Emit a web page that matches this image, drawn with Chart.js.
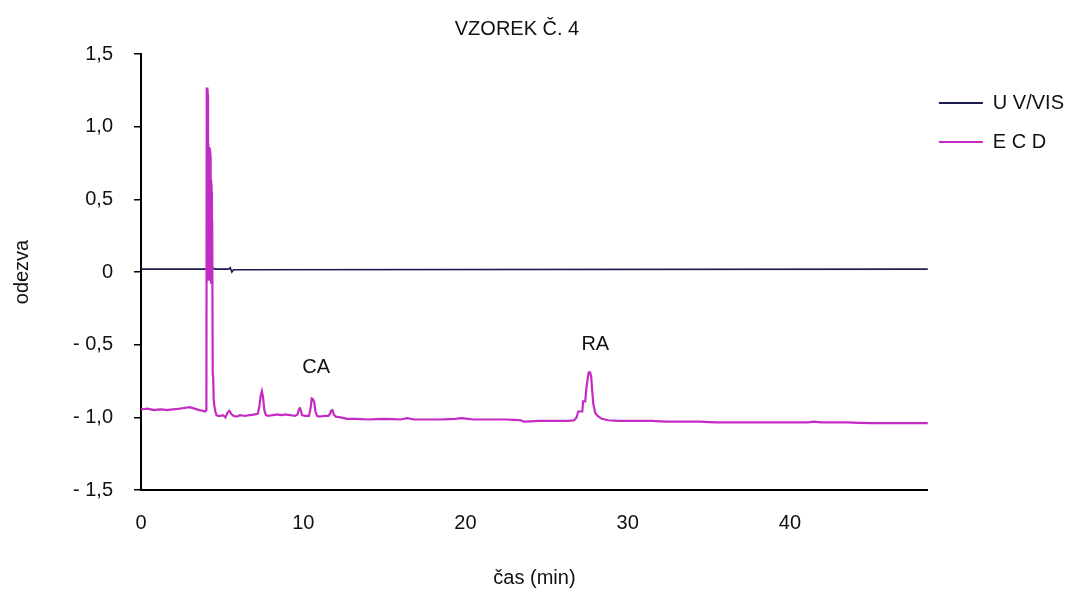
<!DOCTYPE html>
<html>
<head>
<meta charset="utf-8">
<script src="https://cdn.jsdelivr.net/npm/chart.js@4/dist/chart.umd.min.js"></script>
<style>
  html, body { margin: 0; padding: 0; background: #ffffff; }
  #wrap { width: 1070px; height: 591px; }
</style>
</head>
<body>
<div id="wrap"><canvas id="c" width="1070" height="591"></canvas></div>
<script>
// ---------------- DATA ----------------
const chartTitle = 'VZOREK Č. 4';
const xAxisTitle = 'čas (min)';
const yAxisTitle = 'odezva';
const seriesNames = ['U V/VIS', 'E C D'];

const yTickLabels = ['- 1,5', '- 1,0', '- 0,5', '0', '0,5', '1,0', '1,5'];
const xTickLabels = ['0', '10', '20', '30', '40'];

// UV/VIS detector trace (time in min, response)
const uvTime  = [0,    4.0,  4.15, 4.45,  4.6,  5.4,  5.5,  5.6, 5.7,   48.5];
const uvValue = [0.02, 0.02, 0.02, 0.025, 0.02, 0.02, 0.03, 0.0, 0.015, 0.02];

// ECD detector trace (time in min, response)
const ecdTime = [
  0, 0.4, 0.8, 1.2, 1.6, 2.0, 2.4, 2.7, 3.0, 3.3, 3.6, 3.8, 3.95, 4.03,
  4.05, 4.06, 4.07, 4.08, 4.09, 4.10, 4.11, 4.12, 4.13, 4.14, 4.15, 4.16, 4.17, 4.18,
  4.19, 4.20, 4.21, 4.22, 4.23, 4.24, 4.25, 4.26, 4.27, 4.28, 4.29, 4.30, 4.31, 4.32,
  4.33, 4.34, 4.35, 4.36, 4.37, 4.38, 4.39, 4.40,
  4.42, 4.45, 4.48, 4.52, 4.58, 4.66, 4.75, 4.9, 5.05, 5.2, 5.35, 5.45, 5.55, 5.7,
  5.9, 6.1, 6.4, 6.7, 7.0, 7.2, 7.3, 7.38, 7.45, 7.52, 7.6, 7.7, 7.85,
  8.1, 8.4, 8.7, 8.9, 9.2, 9.5, 9.65, 9.72, 9.78, 9.85, 9.92,
  10.1, 10.35, 10.45, 10.52, 10.6, 10.68, 10.75, 10.85, 11.0, 11.3, 11.55,
  11.65, 11.72, 11.8, 11.88, 12.0, 12.3, 12.7, 13.2, 14, 15, 16, 16.4, 16.8,
  17.5, 18.5, 19.4, 19.8, 20.5, 21.5, 22.5, 23.4, 23.6, 24.5, 25.5, 26.3,
  26.7, 26.85, 26.95, 27.2, 27.25, 27.38, 27.45, 27.55, 27.6, 27.68, 27.75, 27.8, 27.88,
  28.0, 28.15, 28.4, 28.8, 29.5, 30.5, 31.5, 32.5, 33.5, 34.5, 35.5,
  37, 39, 41, 41.5, 42, 43.5, 45, 47, 48.5
];
const ecdValue = [
  -0.945, -0.94, -0.95, -0.945, -0.95, -0.945, -0.94, -0.935, -0.93, -0.94, -0.95, -0.955, -0.96, -0.95,
  1.27, -0.04, 1.26, -0.02, 1.27, 0.03, 1.25, -0.06, 1.22, 0.02, 0.88, -0.05, 0.86, 0.06,
  0.85, -0.03, 0.86, 0.08, 0.84, -0.06, 0.85, 0.02, 0.83, -0.04, 0.8, 0.05, 0.64, -0.08,
  0.63, 0.04, 0.6, -0.06, 0.55, 0.0, 0.35, -0.08,
  -0.7, -0.73, -0.88, -0.92, -0.96, -0.985, -0.99, -0.99, -0.985, -1.0, -0.965, -0.955, -0.975, -0.99,
  -0.995, -0.985, -0.99, -0.985, -0.98, -0.975, -0.92, -0.85, -0.82, -0.86, -0.95, -0.985, -0.99,
  -0.985, -0.98, -0.985, -0.98, -0.985, -0.99, -0.98, -0.95, -0.935, -0.95, -0.985,
  -0.99, -0.99, -0.94, -0.87, -0.875, -0.9, -0.96, -0.99, -0.995, -0.99, -0.99,
  -0.975, -0.955, -0.95, -0.98, -0.995, -1.0, -1.01, -1.01, -1.015, -1.01, -1.015, -1.005, -1.015,
  -1.015, -1.015, -1.01, -1.005, -1.015, -1.015, -1.015, -1.02, -1.03, -1.025, -1.025, -1.025,
  -1.02, -1.0, -0.96, -0.96, -0.89, -0.89, -0.8, -0.72, -0.69, -0.69, -0.72, -0.8, -0.91,
  -0.97, -0.99, -1.01, -1.02, -1.025, -1.025, -1.025, -1.03, -1.03, -1.03, -1.035,
  -1.035, -1.035, -1.035, -1.03, -1.035, -1.035, -1.04, -1.04, -1.04
];

// Peak annotations (text, time, response where the text sits)
const peakNames = ['CA', 'RA'];
const peakLabelTime = [10.8, 28.0];
const peakLabelValue = [-0.66, -0.5];

// ---------------- STYLE ----------------
const FONT_FAMILY = '"Liberation Sans", Arial, Helvetica, sans-serif';
const FONT_SIZE = 20;
const TEXT_COLOR = '#111111';
const UV_COLOR = '#1c1c50';
const ECD_COLOR = '#c42ac4';
const TITLE_CENTER_X = 517;

Chart.defaults.font.family = FONT_FAMILY;
Chart.defaults.font.size = FONT_SIZE;
Chart.defaults.color = TEXT_COLOR;

const toPoints = (xs, ys) => xs.map((x, i) => ({ x: x, y: ys[i] }));

const peakLabelPlugin = {
  id: 'peakLabels',
  afterDatasetsDraw(chart) {
    const ctx = chart.ctx;
    const xs = chart.scales.x, ys = chart.scales.y;
    ctx.save();
    ctx.font = FONT_SIZE + 'px ' + FONT_FAMILY;
    ctx.fillStyle = TEXT_COLOR;
    ctx.textAlign = 'center';
    ctx.textBaseline = 'middle';
    peakNames.forEach((name, i) => {
      ctx.fillText(name, xs.getPixelForValue(peakLabelTime[i]), ys.getPixelForValue(peakLabelValue[i]));
    });
    ctx.restore();
  }
};

const titleShiftPlugin = {
  id: 'titleShift',
  afterLayout(chart) {
    const tb = chart.titleBlock;
    if (tb) { tb.right = 2 * TITLE_CENTER_X - tb.left; }
  }
};

new Chart(document.getElementById('c'), {
  type: 'line',
  data: {
    datasets: [
      {
        label: seriesNames[0],
        data: toPoints(uvTime, uvValue),
        borderColor: UV_COLOR,
        backgroundColor: UV_COLOR,
        borderWidth: 1.6,
        pointRadius: 0,
        tension: 0,
        order: 1
      },
      {
        label: seriesNames[1],
        data: toPoints(ecdTime, ecdValue),
        borderColor: ECD_COLOR,
        backgroundColor: ECD_COLOR,
        borderWidth: 2.2,
        pointRadius: 0,
        tension: 0.0001,
        order: 0
      }
    ]
  },
  options: {
    responsive: false,
    animation: false,
    devicePixelRatio: 1,
    layout: { padding: { left: 0, right: -4, top: 0, bottom: 0 } },
    plugins: {
      tooltip: { enabled: false },
      title: {
        display: true,
        text: chartTitle,
        color: TEXT_COLOR,
        font: { size: FONT_SIZE, weight: 'normal' },
        padding: { top: 17, bottom: 13 }
      },
      legend: {
        display: true,
        position: 'right',
        align: 'start',
        title: {
          display: true,
          text: '',
          font: { size: 10, lineHeight: '10px' },
          padding: { top: 0, bottom: 72 }
        },
        labels: {
          usePointStyle: true,
          pointStyle: 'line',
          pointStyleWidth: 44,
          padding: 11,
          color: TEXT_COLOR,
          font: { size: FONT_SIZE, lineHeight: '28px' },
          sort: (a, b) => a.datasetIndex - b.datasetIndex,
          generateLabels(chart) {
            const items = Chart.defaults.plugins.legend.labels.generateLabels(chart);
            return items.map(it => Object.assign({}, it, {
              text: [it.text],
              lineWidth: 2,
              strokeStyle: chart.data.datasets[it.datasetIndex].borderColor,
              fillStyle: chart.data.datasets[it.datasetIndex].borderColor
            }));
          }
        }
      }
    },
    scales: {
      x: {
        type: 'linear',
        min: 0,
        max: 48.5,
        grid: { display: false, drawTicks: false },
        border: { display: true, color: '#000000', width: 2 },
        ticks: {
          stepSize: 10,
          includeBounds: false,
          padding: 21,
          color: TEXT_COLOR,
          maxRotation: 0,
          callback: (value, index) => xTickLabels[index]
        },
        title: {
          display: true,
          text: xAxisTitle,
          color: TEXT_COLOR,
          font: { size: FONT_SIZE },
          padding: { top: 10, bottom: 1 }
        }
      },
      y: {
        type: 'linear',
        min: -1.5,
        max: 1.5,
        grid: { display: true, drawOnChartArea: false, drawTicks: true, tickLength: 7, color: '#000000', lineWidth: 1.5 },
        border: { display: true, color: '#000000', width: 2 },
        ticks: {
          stepSize: 0.5,
          padding: 21,
          color: TEXT_COLOR,
          callback: (value, index) => yTickLabels[index]
        },
        title: {
          display: true,
          text: yAxisTitle,
          color: TEXT_COLOR,
          font: { size: FONT_SIZE },
          padding: { top: 10, bottom: 18 }
        }
      }
    }
  },
  plugins: [peakLabelPlugin, titleShiftPlugin]
});
</script>
</body>
</html>
